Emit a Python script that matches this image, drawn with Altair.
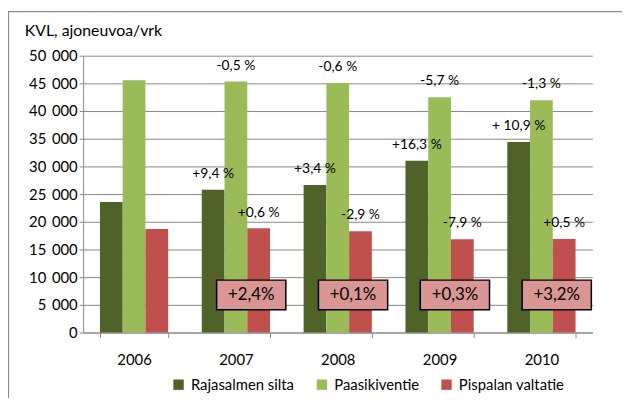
import altair as alt
import pandas as pd

years = ["2006", "2007", "2008", "2009", "2010"]
series = ["Rajasalmen silta", "Paasikiventie", "Pispalan valtatie"]
colors = ["#4F6228", "#9BBB59", "#C0504D"]

raja = [23570, 25790, 26660, 31010, 34390]
paasi = [45550, 45320, 45050, 42480, 41930]
pisp = [18700, 18810, 18270, 16830, 16910]

raja_labels = ["", "+9,4 %", "+3,4 %", "+16,3 %", "+ 10,9 %"]
paasi_labels = ["", "-0,5 %", "-0,6 %", "-5,7 %", "-1,3 %"]
pisp_labels = ["", "+0,6 %", "-2,9 %", "-7,9 %", "+0,5 %"]

box_years = ["2007", "2008", "2009", "2010"]
box_labels = ["+2,4%", "+0,1%", "+0,3%", "+3,2%"]

y_ticks = [0, 5000, 10000, 15000, 20000, 25000, 30000, 35000, 40000, 45000, 50000]

rows = []
for s, vals, labs in zip(series, [raja, paasi, pisp], [raja_labels, paasi_labels, pisp_labels]):
    for yr, v, l in zip(years, vals, labs):
        rows.append({"year": yr, "series": s, "value": v, "label": l})
df = pd.DataFrame(rows)
boxes = pd.DataFrame({"year": box_years, "label": box_labels})

FONT = "Lato"
GRAY = "#878787"

x_enc = alt.X(
    "year:N",
    title=None,
    sort=years,
    scale=alt.Scale(paddingInner=0.33, paddingOuter=0.165),
    axis=alt.Axis(labelAngle=0, tickBand="extent", tickSize=5, labelPadding=15,
                  grid=False, domainColor=GRAY, tickColor=GRAY),
)
xoff_enc = alt.XOffset("series:N", sort=series, scale=alt.Scale(paddingInner=0, paddingOuter=0))
y_enc = alt.Y(
    "value:Q",
    title=None,
    scale=alt.Scale(domain=[0, 50000], nice=False),
    axis=alt.Axis(values=y_ticks, grid=True, gridColor=GRAY, domainColor=GRAY, tickColor=GRAY,
                  tickSize=4, labelPadding=2,
                  labelExpr="replace(format(datum.value, ','), ',', '\u2009 ')"),
)

bars = alt.Chart(df).mark_bar().encode(
    x=x_enc,
    xOffset=xoff_enc,
    y=y_enc,
    color=alt.Color(
        "series:N",
        sort=series,
        scale=alt.Scale(domain=series, range=colors),
        legend=alt.Legend(title=None, orient="none", legendX=89, legendY=325,
                          direction="horizontal", symbolType="square", symbolSize=110,
                          symbolStrokeWidth=0, labelFont=FONT, labelFontSize=15,
                          columnPadding=20, labelOffset=5),
    ),
)

labels = alt.Chart(df).transform_filter("datum.label != ''").mark_text(
    dy=-16, fontSize=14, font=FONT, baseline="middle", color="black"
).encode(x=x_enc, xOffset=xoff_enc, y=y_enc, text="label:N")

box_rect = alt.Chart(boxes).mark_bar(
    width=70, xOffset=15.5, fill="#D99694", stroke="black", strokeWidth=1.5
).encode(x=x_enc, y=alt.value(227), y2=alt.value(257))

box_text = alt.Chart(boxes).mark_text(
    xOffset=15.5, fontSize=17, font=FONT, baseline="middle", color="black"
).encode(x=x_enc, y=alt.value(242), text="label:N")

border = alt.Chart(pd.DataFrame({"a": [0]})).mark_rect(
    fillOpacity=0, stroke="#8c8c8c", strokeWidth=1.2
).encode(x=alt.value(-75.5), x2=alt.value(600), y=alt.value(-44.5), y2=alt.value(400))

chart = alt.layer(border, bars, labels, box_rect, box_text).properties(
    width=515,
    height=280,
    padding={"left": 76, "top": 46, "right": 30, "bottom": 64},
    autosize=alt.AutoSizeParams(type="none"),
    title=alt.Title("KVL, ajoneuvoa/vrk", anchor="start", frame="group", dx=-59,
                    dy=64, offset=23, baseline="alphabetic", fontSize=16, font=FONT,
                    fontWeight="normal", color="black"),
).configure_view(stroke=None).configure_axis(
    labelFont=FONT, labelFontSize=15, labelColor="black"
)

chart.save("out.html", embed_options={"renderer": "svg", "actions": False})
